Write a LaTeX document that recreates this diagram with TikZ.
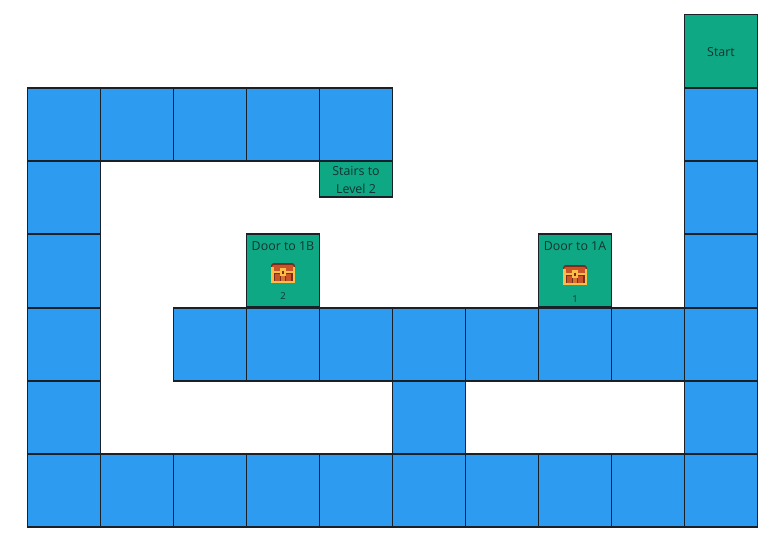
\documentclass[tikz,border=0pt]{standalone}
\usepackage{fontspec}
\setmainfont{Open Sans}
\definecolor{FloorBlue}{RGB}{45, 155, 240}
\definecolor{RoomGreen}{RGB}{15, 168, 132}
\definecolor{EdgeDark}{RGB}{26, 32, 40}
\definecolor{LabelDark}{RGB}{20, 50, 50}
\definecolor{ChestRed}{RGB}{200, 84, 40}
\definecolor{ChestDark}{RGB}{122, 44, 30}
\definecolor{ChestGold}{RGB}{250, 190, 70}
\tikzset{
  floorcell/.style={draw=EdgeDark, line width=1.8pt, fill=FloorBlue, minimum width=73pt, minimum height=73pt, inner sep=0pt},
  roomcell/.style={floorcell, fill=RoomGreen, text=LabelDark, font=\fontsize{12.4}{18}\selectfont, align=center},
  chestnum/.style={text=LabelDark, font=\fontsize{9.5}{10}\selectfont, inner sep=0pt},
  pics/chest/.style={code={
    % lid
    \fill[ChestDark, rounded corners=3pt] (-12,-10) rectangle (12,-2);
    \fill[ChestRed, rounded corners=2pt] (-11,-8) rectangle (11,-2);
    % body
    \fill[ChestDark] (-12,-2) rectangle (12,10);
    \fill[ChestRed] (-8,1) rectangle (-3,8);
    \fill[ChestRed] (3,1) rectangle (8,8);
    \fill[ChestRed!70!ChestGold] (-2,1) rectangle (2,8);
    % bands
    \fill[ChestGold] (-12,-2) rectangle (12,0);
    \fill[ChestGold] (-12,8) rectangle (12,10);
    \fill[ChestGold] (-12,-6) rectangle (-9.5,10);
    \fill[ChestGold] (9.5,-6) rectangle (12,10);
    % lock
    \fill[ChestGold] (-3,-5) rectangle (3,3);
    \fill[ChestDark] (-1,-2) rectangle (1,1);
  }}
}
\begin{document}
\begin{tikzpicture}[x=1pt, y=-1pt]
  \useasboundingbox (0,0) rectangle (780,539);
  % Floor cells, col/row
  \foreach \c/\r in {0/1,1/1,2/1,3/1,4/1,9/1,0/2,9/2,0/3,9/3,0/4,2/4,3/4,4/4,5/4,6/4,7/4,8/4,9/4,0/5,5/5,9/5,0/6,1/6,2/6,3/6,4/6,5/6,6/6,7/6,8/6,9/6} {
    \node[floorcell] (cell-\c-\r) at (64+73*\c, 51+73.3*\r) {};
  }
  % Rooms
  \node[roomcell, text height=12pt, text depth=2pt] (start) at (721, 51) {Start};
  \node[roomcell, minimum height=36.5pt] (stairs) at (356, 179) {\rule{0pt}{12pt}Stairs to\\Level 2};
  \node[roomcell, text depth=52pt, text height=12pt] (door1B) at (283, 270.5) {Door to 1B};
  \node[roomcell, text depth=52pt, text height=12pt] (door1A) at (575, 270.5) {Door to 1A};
  % Chests
  \pic at (283, 273) {chest};
  \pic at (575, 275) {chest};
  \node[chestnum] (num2) at (283, 296) {2};
  \node[chestnum] (num1) at (575, 299) {1};
\end{tikzpicture}
\end{document}
